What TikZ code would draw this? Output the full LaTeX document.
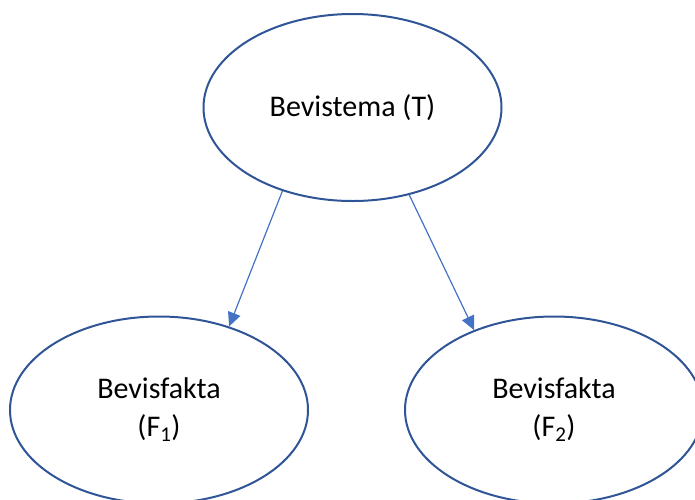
\documentclass[tikz,border=0pt]{standalone}
\usepackage{fontspec}
\setmainfont{Carlito}
\usetikzlibrary{shapes.geometric,arrows.meta}
\definecolor{ringblue}{HTML}{2F5597}
\definecolor{linkblue}{HTML}{4472C4}
\tikzset{
  claim/.style={ellipse, draw=ringblue, line width=2pt, inner sep=0pt,
    minimum width=298pt, minimum height=187pt, align=center,
    font=\fontsize{30}{38}\selectfont},
  link/.style={draw=linkblue, line width=1.2pt,
    -{Triangle[length=14pt,width=13pt]}}
}
\begin{document}
\begin{tikzpicture}[x=1pt,y=-1pt]
  \useasboundingbox (0,0) rectangle (695,499);
  \clip (0,0) rectangle (695,499);
  \node[claim] (T) at (352.5,107.5) {Bevistema (T)};
  \node[claim] (F1) at (159,410) {Bevisfakta\\(F\textsubscript{1})};
  \node[claim] (F2) at (554,410) {Bevisfakta\\(F\textsubscript{2})};
  \draw[link] (T.230.6) -- (F1.50.1);
  \draw[link] (T.303.8) -- (F2.135.3);
\end{tikzpicture}
\end{document}
